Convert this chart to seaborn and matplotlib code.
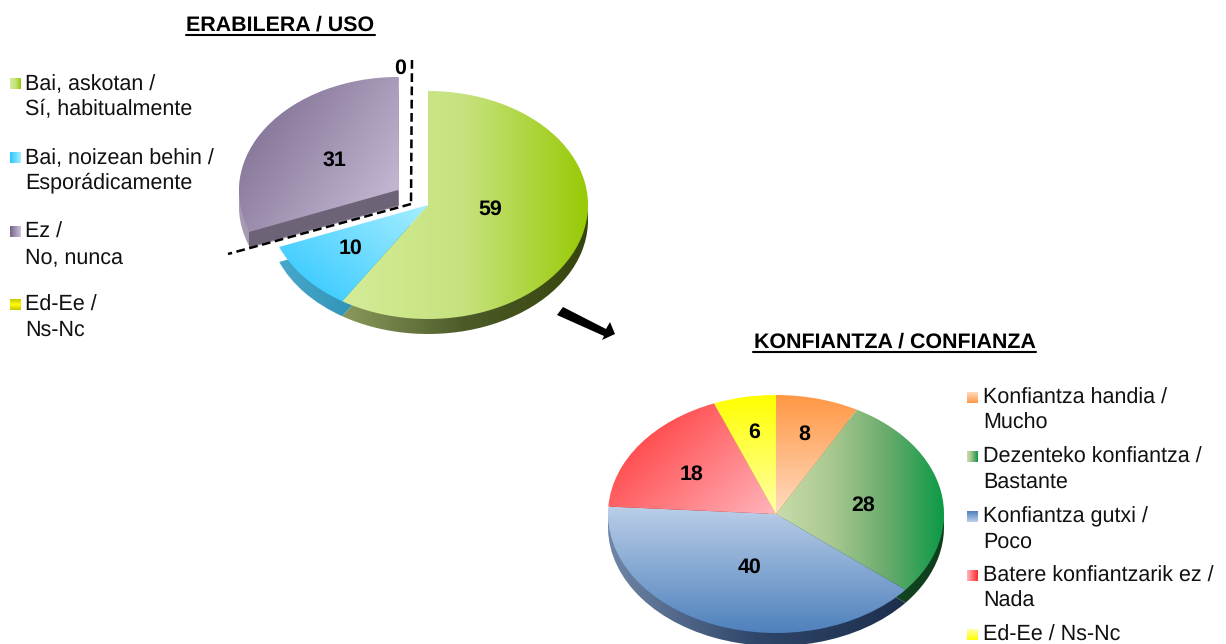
import numpy as np
import seaborn as sns
import matplotlib.pyplot as plt

uso_labels = ['Bai, askotan /\nSí, habitualmente', 'Bai, noizean behin /\nEsporádicamente', 'Ez /\nNo, nunca', 'Ed-Ee /\nNs-Nc']
uso_values = [59, 10, 31, 0]
konf_labels = ['Konfiantza handia /\nMucho', 'Dezenteko konfiantza /\nBastante', 'Konfiantza gutxi /\nPoco',
               'Batere konfiantzarik ez /\nNada', 'Ed-Ee / Ns-Nc']
konf_values = [8, 28, 40, 18, 6]

# (gradient stops, gradient direction in degrees)
uso_top = [(['#d4ec98', '#c6e27e', '#98ca06'], 0), (['#2cc6ff', '#a6eeff'], 40), (['#766489', '#cdc2dc'], -35),
           (['#c8c800', '#ffff00', '#c8c800'], 90)]
uso_side = [(['#8a9a5c', '#4c5a28', '#36450c'], 0), (['#48a8cc', '#1a80a0'], 0), (['#a89cb4', '#807488'], 0),
            (['#cccc00', '#999900'], 0)]
konf_top = [(['#ffdcc0', '#ff9745'], 90), (['#c9dcab', '#a9c890', '#68ab6c', '#0c9a47'], 0), (['#4f81bd', '#bbcfe8'], 90),
            (['#ffb4bc', '#ff2c2c'], 145), (['#ffffa8', '#ffff00'], 90)]
konf_side = [(['#cc7a30', '#cc7a30'], 0), (['#1a5a2c', '#0f3d1c'], 0), (['#6f86a6', '#2f466a', '#1e2f4c'], 0),
             (['#a02020', '#a02020'], 0), (['#bbbb00', '#bbbb00'], 0)]

W, H = 1226, 644
sns.set_theme(style='white')
plt.rcParams['font.family'] = ['Liberation Sans', 'DejaVu Sans']
plt.rcParams['text.hinting'] = 'no_hinting'
fig = plt.figure(figsize=(W / 100, H / 100), dpi=100, facecolor='white')


def gradient_fill(ax, wedge, stops, angle):
    # paint a linear gradient over the wedge, clipped to its shape
    box = wedge.get_path().get_extents()
    yy, xx = np.mgrid[0:1:200j, 0:1:200j]
    t = xx * np.cos(np.radians(angle)) + yy * np.sin(np.radians(angle))
    t = (t - t.min()) / (t.max() - t.min())
    cmap = sns.blend_palette(stops, as_cmap=True)
    im = ax.imshow(t, cmap=cmap, origin='lower', aspect='auto', interpolation='bilinear',
                   extent=(box.x0, box.x1, box.y0, box.y1), zorder=wedge.get_zorder())
    im.set_clip_path(wedge)


def draw_pie(cx, cy, rx, ry, depth, values, top, side, explode):
    pad = 1.5
    ax = fig.add_axes([(cx - rx * pad) / W, (H - cy - ry * pad) / H, 2 * rx * pad / W, 2 * ry * pad / H], zorder=1)
    for offset, styles, z in [(-depth / ry, side, 1), (0, top, 2)]:
        wedges, _ = ax.pie(values, startangle=90, counterclock=False, explode=explode, center=(0, offset),
                           radius=1, wedgeprops={'linewidth': 0, 'zorder': z, 'facecolor': 'none'})
        for wedge, val, (stops, ang) in zip(wedges, values, styles):
            if val > 0:
                gradient_fill(ax, wedge, stops, ang)
    ax.set_aspect('auto')
    ax.set_xlim(-pad, pad)
    ax.set_ylim(-pad, pad)
    ax.axis('off')


draw_pie(428, 205, 160, 114, 15, uso_values, uso_top, uso_side, [0, 0, 0.22, 0])
draw_pie(776, 514, 168, 119, 13, konf_values, konf_top, konf_side, None)

# overlay in image pixels for the text and the annotations
over = fig.add_axes([0, 0, 1, 1], zorder=2)
over.set_xlim(0, W)
over.set_ylim(H, 0)
over.axis('off')

# cut face of the pulled out slice
over.fill([398, 398, 249, 249], [190, 205, 247, 232], color='#6c6377', lw=0)

over.plot([412, 411], [60, 204], color='black', lw=1.8, ls=(0, (3.5, 1.8)))
over.plot([411, 228], [204, 254], color='black', lw=1.8, ls=(0, (3.5, 1.8)))

over.fill([557, 563, 606, 610, 615, 602, 604], [315, 307, 329, 322, 334, 340, 336], color='black', lw=0)


def draw_legend(labels, top, x_box, x_text, ys, size=15.5):
    for lab, (stops, ang), y in zip(labels, top, ys):
        grad = np.linspace(0, 1, 32).reshape(-1, 1) if ang == 90 else np.linspace(0, 1, 32).reshape(1, -1)
        over.imshow(grad, cmap=sns.blend_palette(stops, as_cmap=True), aspect='auto',
                    extent=(x_box, x_box + 11, y + 6, y - 5))
        for i, line in enumerate(lab.split('\n')):
            over.text(x_text, y + 1 + i * 25, line, fontsize=size, va='center', ha='left', color='#111111')


draw_legend(uso_labels, uso_top, 10, 25, [83, 157, 231, 304])
draw_legend(konf_labels, konf_top, 967, 983, [397, 456, 516, 575, 634])
over.set_xlim(0, W)
over.set_ylim(H, 0)


def draw_title(text, x0, x1, y):
    over.text((x0 + x1) / 2, y, text, fontsize=15.4, fontweight='bold', ha='center', va='center', color='black')
    over.plot([x0, x1], [y + 10, y + 10], color='black', lw=1.5)


draw_title('ERABILERA / USO', 186, 375, 25)
draw_title('KONFIANTZA / CONFIANZA', 753, 1036, 342)

uso_pos = [(490, 209), (351, 248), (334, 160), (400, 68)]
konf_pos = [(804, 434), (863, 505), (750, 567), (692, 474), (754, 432)]
for val, (x, y) in zip(uso_values + konf_values, uso_pos + konf_pos):
    over.text(x, y, str(val), fontsize=15.4, fontweight='bold', ha='center', va='center', color='black')

fig.savefig('out.png', dpi=100)
